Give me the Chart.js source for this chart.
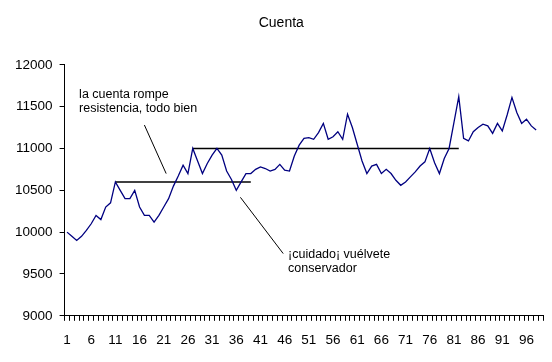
<!DOCTYPE html>
<html>
<head>
<meta charset="utf-8">
<script src="https://cdn.jsdelivr.net/npm/chart.js@4.4.1/dist/chart.umd.min.js"></script>
<style>
  html, body { margin: 0; padding: 0; background: #fff; }
  canvas { display: block; }
</style>
</head>
<body>
<canvas id="chart" width="552" height="362"></canvas>
<script>
// categories 1..99 (Excel style numbering)
const categories = Array.from({ length: 99 }, (_, i) => String(i + 1));

// daily account value
const cuenta = [
  10000, 9950, 9900, 9950, 10020, 10100, 10200, 10150, 10300, 10350,
  10600, 10500, 10400, 10400, 10500, 10300, 10200, 10200, 10120, 10200,
  10300, 10400, 10550, 10670, 10800, 10700, 11000, 10850, 10700, 10820,
  10920, 11000, 10920, 10730, 10630, 10500, 10600, 10700, 10700, 10750,
  10780, 10760, 10730, 10750, 10810, 10740, 10730, 10910, 11040, 11120,
  11130, 11110, 11190, 11300, 11110, 11140, 11200, 11110, 11410, 11250,
  11050, 10850, 10700, 10790, 10810, 10700, 10750, 10700, 10620, 10560,
  10600, 10660, 10720, 10790, 10840, 11000, 10830, 10700, 10880, 11000,
  11310, 11620, 11120, 11090, 11200, 11250, 11290, 11270, 11180, 11300,
  11210, 11400, 11610, 11430, 11300, 11350, 11270, 11220
];

const yTicks = [9000, 9500, 10000, 10500, 11000, 11500, 12000];

// resistance lines: start category, end category, level
const resistStart = [11, 27];
const resistEnd = [39, 82];
const resistLevel = [10600, 11000];

// callouts (category, value)
const noteText = [
  ["la cuenta rompe", "resistencia, todo bien"],
  ["¡cuidado¡ vuélvete", "conservador"]
];
const noteAt = [[3.5, 11640], [46.7, 9732]];
const pointerFrom = [[17, 11280], [36.85, 10416]];
const pointerTo = [[21.5, 10700], [45.7, 9744]];

const FONT = "'Liberation Sans', Arial, sans-serif";

const resistSets = resistLevel.map((lvl, k) => ({
  label: "resistencia " + (k + 1),
  data: [
    { x: String(resistStart[k]), y: lvl },
    { x: String(resistEnd[k]), y: lvl }
  ],
  borderColor: "#000",
  borderWidth: 1.6,
  pointRadius: 0,
  fill: false
}));

const callouts = {
  id: "callouts",
  afterDatasetsDraw(chart) {
    const { ctx, scales: { x, y } } = chart;
    ctx.save();
    ctx.strokeStyle = "#000";
    ctx.lineWidth = 1;
    pointerFrom.forEach((p, k) => {
      const q = pointerTo[k];
      ctx.beginPath();
      ctx.moveTo(x.getPixelForValue(p[0] - 1), y.getPixelForValue(p[1]));
      ctx.lineTo(x.getPixelForValue(q[0] - 1), y.getPixelForValue(q[1]));
      ctx.stroke();
    });
    ctx.fillStyle = "#000";
    ctx.font = "12.5px " + FONT;
    ctx.textAlign = "left";
    ctx.textBaseline = "middle";
    noteText.forEach((lines, k) => {
      const px = x.getPixelForValue(noteAt[k][0] - 1);
      const py = y.getPixelForValue(noteAt[k][1]);
      lines.forEach((t, j) => ctx.fillText(t, px, py + j * 14));
    });
    ctx.restore();
  }
};

new Chart(document.getElementById("chart"), {
  type: "line",
  data: {
    labels: categories,
    datasets: [
      {
        label: "Cuenta",
        data: cuenta,
        borderColor: "#000080",
        borderWidth: 1.3,
        pointRadius: 0,
        tension: 0,
        fill: false
      },
      ...resistSets
    ]
  },
  options: {
    responsive: false,
    animation: false,
    layout: { padding: { left: 14.6, right: 4, top: 0, bottom: 3 } },
    plugins: {
      legend: { display: false },
      tooltip: { enabled: false },
      title: {
        display: true,
        text: "Cuenta",
        color: "#000",
        font: { family: FONT, size: 14, weight: "normal" },
        padding: { top: 15, bottom: 33 }
      }
    },
    scales: {
      x: {
        offset: true,
        grid: {
          offset: true,
          drawOnChartArea: false,
          color: "#000",
          tickColor: "#000",
          tickLength: 5
        },
        border: { color: "#000", width: 1 },
        ticks: {
          autoSkip: false,
          maxRotation: 0,
          minRotation: 0,
          padding: 11,
          color: "#000",
          font: { family: FONT, size: 13.5 },
          callback: (v, i) => (i % 5 === 0 ? categories[i] : "")
        }
      },
      y: {
        min: yTicks[0],
        max: yTicks[yTicks.length - 1],
        afterBuildTicks: (s) => { s.ticks = yTicks.map((v) => ({ value: v })); },
        afterFit: (s) => { s.width = 50; },
        grid: {
          drawOnChartArea: false,
          color: "#000",
          tickColor: "#000",
          tickLength: 5
        },
        border: { color: "#000", width: 1 },
        ticks: {
          padding: 7,
          color: "#000",
          font: { family: FONT, size: 13.5 },
          callback: (v) => String(v)
        }
      }
    }
  },
  plugins: [callouts]
});
</script>
</body>
</html>
